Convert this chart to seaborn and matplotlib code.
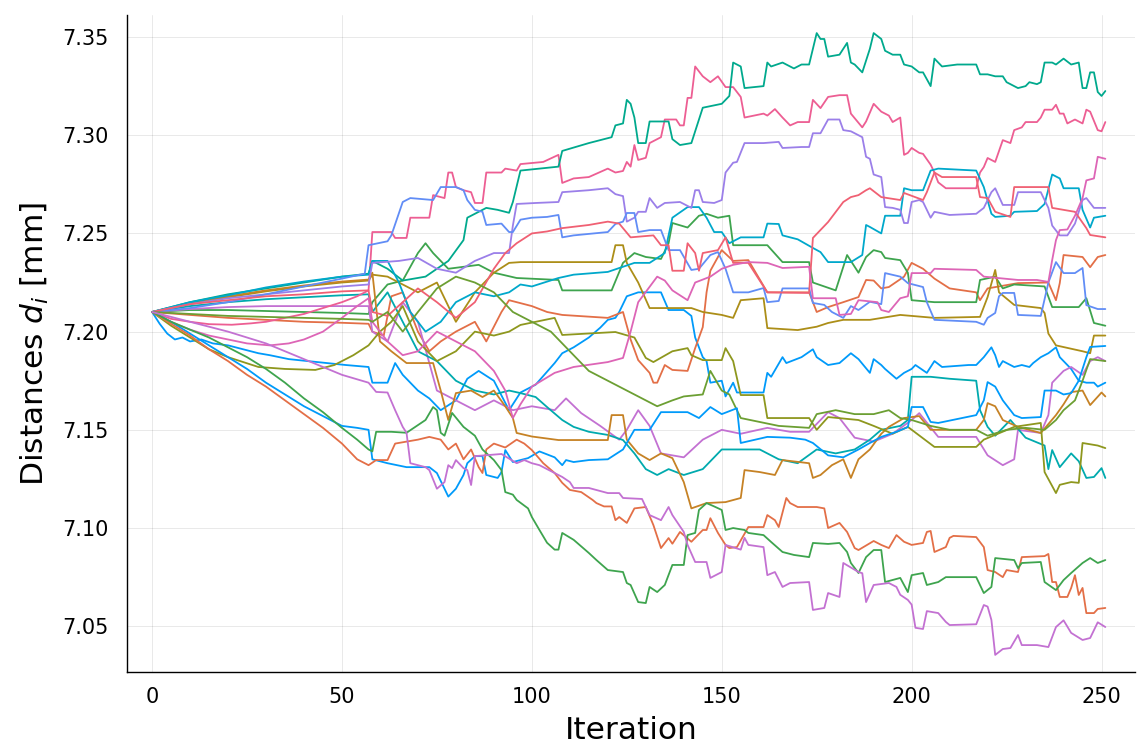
import matplotlib
matplotlib.use("Agg")
import matplotlib.pyplot as plt
import seaborn as sns
import pandas as pd

# Distance traces d_i over the optimisation iterations: (iteration, distance in mm)
d01 = [(0,7.21),(2,7.204),(4,7.199),(6,7.196),(8,7.197),(10,7.195),(13,7.196),(16,7.194),(20,7.193),(24,7.191),(28,7.189),(31,7.188),(36,7.186),(41,7.185),(46,7.184),(51,7.183),(57,7.182),(58,7.174),(62,7.174),(64,7.184),(66,7.178),(70,7.17),(73,7.166),(76,7.16),(80,7.165),(83,7.176),(86,7.18),(90,7.175),(94,7.16),(97,7.169),(101,7.173),(106,7.184),(108,7.189),(111,7.192),(115,7.197),(118,7.202),(120,7.206),(122,7.207),(123,7.21),(125,7.218),(128,7.22),(134,7.22),(136,7.211),(140,7.211),(142,7.208),(143,7.197),(145,7.187),(146,7.185),(147,7.174),(150,7.175),(151,7.167),(153,7.174),(154,7.169),(161,7.169),(162,7.179),(163,7.177),(166,7.187),(167,7.184),(171,7.187),(174,7.191),(175,7.187),(178,7.183),(181,7.184),(184,7.189),(186,7.186),(189,7.179),(190,7.186),(192,7.183),(193,7.181),(196,7.176),(198,7.179),(200,7.181),(201,7.183),(204,7.179),(206,7.185),(208,7.182),(215,7.183),(217,7.183),(219,7.187),(221,7.192),(222,7.188),(223,7.182),(224,7.185),(227,7.182),(229,7.183),(231,7.182),(232,7.184),(234,7.187),(236,7.189),(238,7.192),(239,7.187),(242,7.181),(244,7.175),(246,7.174),(248,7.174),(249,7.172),(251,7.174)]
d02 = [(0,7.21),(10,7.2085),(20,7.207),(30,7.206),(40,7.205),(50,7.2045),(57,7.204),(58,7.2),(61,7.198),(63,7.218),(66,7.22),(70,7.2),(73,7.19),(76,7.195),(80,7.2),(85,7.205),(88,7.195),(92,7.21),(94,7.216),(96,7.215),(100,7.213),(104,7.21),(108,7.2085),(120,7.207),(124,7.21),(126,7.196),(128,7.1855),(131,7.179),(132,7.174),(133,7.174),(135,7.183),(137,7.1805),(141,7.18),(143,7.1916),(145,7.2023),(146,7.22),(147,7.231),(150,7.2415),(153,7.236),(157,7.2364),(162,7.22),(173,7.22),(175,7.21),(178,7.2125),(182,7.215),(186,7.2176),(188,7.2263),(190,7.226),(192,7.222),(194,7.2227),(198,7.228),(200,7.235),(203,7.232),(206,7.227),(210,7.222),(217,7.22),(218,7.216),(220,7.222),(228,7.2247),(236,7.225),(238,7.216),(239,7.2247),(240,7.239),(245,7.238),(247,7.2328),(249,7.238),(251,7.239)]
d03 = [(0,7.21),(10,7.211),(20,7.211),(30,7.2105),(40,7.21),(50,7.2095),(57,7.209),(58,7.215),(62,7.224),(66,7.226),(70,7.24),(72,7.245),(74,7.24),(78,7.232),(82,7.233),(86,7.234),(90,7.23),(96,7.2273),(107,7.2263),(108,7.221),(121,7.221),(124,7.235),(127,7.24),(130,7.238),(134,7.237),(136,7.245),(137,7.2553),(141,7.253),(144,7.259),(146,7.26),(149,7.258),(152,7.259),(153,7.244),(162,7.244),(166,7.2354),(173,7.2354),(174,7.225),(180,7.221),(183,7.239),(186,7.23),(188,7.238),(190,7.2415),(192,7.2405),(193,7.2375),(197,7.2364),(199,7.23),(200,7.216),(206,7.215),(217,7.215),(218,7.2263),(222,7.228),(224,7.222),(227,7.224),(235,7.223),(237,7.2125),(244,7.2125),(246,7.217),(248,7.2044),(251,7.203)]
d04 = [(0,7.21),(10,7.2115),(20,7.2125),(30,7.213),(57,7.213),(58,7.2),(62,7.195),(66,7.215),(70,7.205),(75,7.17),(80,7.165),(85,7.16),(90,7.165),(95,7.16),(100,7.162),(106,7.16),(109,7.166),(113,7.1585),(118,7.152),(123,7.145),(125,7.15),(128,7.16),(131,7.152),(134,7.138),(140,7.136),(145,7.145),(150,7.15),(155,7.148),(162,7.151),(168,7.149),(173,7.149),(178,7.159),(181,7.156),(185,7.146),(190,7.144),(195,7.148),(200,7.155),(202,7.1585),(207,7.1464),(217,7.1464),(220,7.137),(224,7.132),(227,7.135),(228,7.15),(234,7.1484),(236,7.1575),(237,7.174),(240,7.18),(242,7.182),(245,7.178),(247,7.185),(249,7.187),(251,7.185)]
d05 = [(0,7.21),(10,7.214),(20,7.2175),(30,7.2205),(40,7.223),(50,7.225),(57,7.226),(58,7.229),(62,7.228),(65,7.225),(70,7.22),(75,7.225),(80,7.205),(85,7.22),(90,7.23),(94,7.235),(97,7.2354),(121,7.2354),(122,7.244),(124,7.244),(125,7.235),(128,7.225),(131,7.212),(142,7.212),(145,7.21),(150,7.2085),(153,7.207),(155,7.216),(161,7.217),(162,7.2018),(170,7.2008),(175,7.2025),(178,7.2044),(182,7.206),(189,7.206),(197,7.2085),(206,7.207),(218,7.2075),(220,7.2176),(222,7.2314),(223,7.22),(227,7.2136),(234,7.212),(235,7.2095),(236,7.199),(238,7.193),(245,7.19),(247,7.189),(248,7.198),(251,7.198)]
d06 = [(0,7.21),(10,7.213),(20,7.215),(30,7.2165),(40,7.2175),(50,7.2185),(57,7.219),(58,7.21),(62,7.22),(66,7.205),(70,7.19),(75,7.185),(80,7.175),(85,7.17),(90,7.168),(94,7.17),(97,7.1687),(101,7.1667),(104,7.1616),(108,7.155),(111,7.1515),(115,7.149),(120,7.1474),(124,7.1448),(127,7.138),(130,7.13),(133,7.127),(136,7.13),(140,7.127),(145,7.13),(150,7.14),(160,7.14),(165,7.135),(170,7.133),(175,7.14),(180,7.138),(185,7.14),(189,7.145),(192,7.15),(197,7.152),(199,7.155),(200,7.177),(205,7.177),(210,7.176),(217,7.175),(218,7.16),(220,7.1515),(222,7.147),(226,7.155),(230,7.146),(235,7.142),(236,7.13),(237,7.1397),(239,7.131),(242,7.138),(244,7.134),(246,7.1255),(248,7.126),(250,7.1305),(251,7.1255)]
d07 = [(0,7.21),(5,7.2065),(10,7.205),(15,7.2038),(21,7.2035),(26,7.2042),(30,7.205),(35,7.207),(40,7.209),(45,7.212),(50,7.215),(54,7.218),(57,7.221),(58,7.2507),(63,7.2507),(64,7.2477),(67,7.2477),(68,7.258),(73,7.258),(74,7.2695),(77,7.268),(78,7.281),(79,7.281),(80,7.2736),(82,7.272),(84,7.271),(85,7.2655),(87,7.2655),(88,7.281),(92,7.281),(93,7.283),(96,7.282),(97,7.2853),(103,7.2864),(107,7.29),(108,7.2757),(111,7.278),(115,7.2787),(120,7.283),(122,7.281),(124,7.2818),(125,7.2864),(126,7.284),(127,7.295),(128,7.2874),(130,7.2885),(131,7.296),(134,7.299),(135,7.308),(138,7.308),(139,7.305),(140,7.305),(141,7.319),(142,7.319),(143,7.335),(145,7.33),(147,7.327),(149,7.33),(151,7.3245),(153,7.3245),(155,7.3195),(156,7.309),(161,7.311),(162,7.31),(164,7.3133),(166,7.309),(168,7.305),(170,7.3067),(173,7.3067),(174,7.318),(176,7.3138),(178,7.3195),(181,7.3204),(183,7.3204),(184,7.311),(187,7.304),(188,7.307),(190,7.316),(192,7.312),(194,7.31),(195,7.3067),(197,7.309),(198,7.29),(199,7.291),(200,7.2935),(202,7.291),(203,7.2905),(205,7.285),(206,7.281),(207,7.276),(209,7.273),(217,7.273),(218,7.281),(219,7.2838),(220,7.2884),(222,7.2864),(224,7.2975),(226,7.296),(227,7.3026),(229,7.304),(230,7.3067),(233,7.3067),(234,7.309),(235,7.313),(237,7.313),(238,7.3155),(239,7.311),(240,7.311),(241,7.306),(243,7.308),(245,7.306),(246,7.313),(247,7.312),(249,7.3026),(250,7.302),(251,7.3067)]
d08 = [(0,7.21),(10,7.2145),(20,7.218),(30,7.221),(40,7.2235),(50,7.2255),(57,7.2265),(58,7.23),(60,7.195),(63,7.19),(67,7.184),(74,7.184),(76,7.17),(78,7.155),(80,7.1687),(84,7.17),(87,7.1667),(90,7.17),(93,7.162),(95,7.156),(96,7.1484),(100,7.1466),(107,7.1448),(120,7.1448),(121,7.1575),(124,7.1575),(125,7.145),(128,7.138),(131,7.1346),(134,7.138),(137,7.1356),(140,7.1234),(142,7.11),(146,7.1127),(151,7.1132),(155,7.1153),(156,7.1295),(160,7.1285),(164,7.127),(166,7.1346),(173,7.133),(174,7.1255),(176,7.127),(179,7.132),(182,7.135),(184,7.1255),(186,7.135),(189,7.14),(192,7.148),(194,7.1515),(198,7.156),(202,7.157),(205,7.15),(217,7.15),(219,7.155),(220,7.1636),(222,7.162),(224,7.155),(228,7.1515),(234,7.1484),(238,7.1575),(240,7.163),(242,7.1692),(245,7.17),(247,7.1626),(250,7.169),(251,7.167)]
d09 = [(0,7.21),(10,7.215),(20,7.219),(30,7.222),(40,7.225),(50,7.228),(57,7.2295),(58,7.236),(62,7.232),(66,7.226),(72,7.228),(78,7.236),(82,7.2466),(83,7.258),(88,7.263),(91,7.262),(94,7.2605),(95,7.266),(97,7.282),(107,7.284),(108,7.292),(115,7.296),(121,7.299),(122,7.305),(124,7.306),(125,7.318),(126,7.316),(127,7.309),(128,7.296),(130,7.296),(131,7.307),(136,7.307),(137,7.298),(139,7.295),(142,7.296),(143,7.302),(145,7.314),(150,7.316),(152,7.32),(153,7.337),(155,7.335),(156,7.324),(161,7.325),(162,7.337),(163,7.335),(166,7.337),(169,7.334),(171,7.336),(173,7.336),(174,7.344),(175,7.352),(176,7.349),(177,7.349),(178,7.34),(181,7.341),(183,7.347),(184,7.337),(185,7.336),(187,7.332),(189,7.344),(190,7.352),(192,7.349),(193,7.343),(195,7.341),(197,7.341),(198,7.336),(200,7.335),(202,7.332),(203,7.332),(205,7.325),(206,7.339),(208,7.335),(212,7.336),(217,7.336),(218,7.331),(220,7.331),(222,7.33),(224,7.33),(225,7.327),(228,7.324),(230,7.325),(231,7.327),(233,7.326),(234,7.327),(235,7.337),(237,7.337),(238,7.336),(240,7.339),(242,7.336),(244,7.337),(245,7.324),(246,7.324),(247,7.332),(248,7.332),(249,7.322),(250,7.32),(251,7.3225)]
d10 = [(0,7.21),(5,7.203),(10,7.197),(15,7.191),(20,7.187),(28,7.182),(35,7.181),(43,7.1805),(48,7.183),(53,7.188),(57,7.193),(60,7.2),(63,7.205),(66,7.213),(70,7.195),(75,7.185),(80,7.19),(85,7.2),(90,7.198),(94,7.2),(97,7.2034),(106,7.207),(108,7.1983),(122,7.1998),(127,7.197),(130,7.1866),(132,7.1845),(137,7.19),(141,7.1916),(142,7.188),(145,7.1855),(150,7.1855),(151,7.1916),(153,7.185),(155,7.1677),(161,7.1677),(162,7.156),(173,7.156),(175,7.15),(178,7.1565),(186,7.155),(190,7.152),(195,7.148),(199,7.1515),(206,7.1413),(217,7.1413),(219,7.145),(227,7.1515),(234,7.1535),(235,7.1285),(238,7.1178),(239,7.122),(242,7.1234),(244,7.123),(245,7.1433),(249,7.142),(251,7.1407)]
d11 = [(0,7.21),(10,7.215),(20,7.2185),(30,7.2225),(40,7.2255),(50,7.228),(57,7.229),(58,7.236),(62,7.236),(65,7.225),(68,7.21),(72,7.2),(76,7.205),(80,7.215),(85,7.22),(90,7.218),(94,7.22),(97,7.224),(100,7.223),(107,7.2273),(111,7.229),(120,7.2304),(127,7.235),(131,7.235),(135,7.24),(137,7.258),(141,7.2634),(144,7.2634),(146,7.258),(148,7.2507),(150,7.2507),(152,7.245),(155,7.248),(161,7.248),(162,7.255),(165,7.2548),(166,7.249),(170,7.247),(174,7.2426),(176,7.2405),(178,7.2354),(184,7.2354),(187,7.239),(188,7.2543),(189,7.2533),(192,7.25),(193,7.259),(197,7.259),(198,7.273),(200,7.272),(203,7.272),(205,7.282),(207,7.283),(217,7.282),(219,7.2736),(221,7.26),(222,7.2584),(226,7.259),(227,7.261),(233,7.2614),(235,7.265),(237,7.28),(239,7.278),(240,7.273),(244,7.273),(245,7.262),(247,7.253),(248,7.258),(251,7.259)]
d12 = [(0,7.21),(10,7.214),(20,7.217),(30,7.219),(40,7.221),(50,7.223),(57,7.224),(58,7.235),(65,7.236),(70,7.2375),(75,7.232),(80,7.23),(85,7.236),(90,7.24),(94,7.24),(95,7.254),(96,7.265),(101,7.2655),(107,7.266),(108,7.271),(115,7.272),(120,7.273),(122,7.27),(124,7.269),(125,7.256),(127,7.258),(128,7.261),(130,7.261),(131,7.268),(133,7.263),(135,7.2655),(139,7.266),(142,7.263),(143,7.272),(144,7.272),(145,7.266),(148,7.2655),(150,7.267),(151,7.281),(153,7.286),(154,7.2864),(156,7.296),(161,7.296),(165,7.2966),(166,7.2935),(171,7.294),(173,7.294),(174,7.301),(176,7.301),(178,7.308),(181,7.308),(182,7.3026),(184,7.302),(187,7.299),(188,7.289),(189,7.288),(190,7.28),(192,7.2787),(193,7.2634),(195,7.263),(197,7.262),(198,7.2553),(199,7.2553),(200,7.266),(202,7.267),(203,7.266),(205,7.258),(206,7.261),(210,7.2594),(217,7.26),(219,7.263),(221,7.271),(222,7.273),(224,7.2645),(227,7.2645),(228,7.271),(234,7.271),(236,7.263),(237,7.254),(239,7.249),(241,7.249),(243,7.255),(245,7.267),(246,7.268),(248,7.263),(251,7.263)]
d13 = [(0,7.21),(10,7.212),(20,7.215),(30,7.219),(40,7.223),(50,7.227),(56,7.2295),(57,7.244),(62,7.246),(63,7.249),(66,7.266),(68,7.268),(74,7.267),(76,7.2736),(80,7.2736),(82,7.272),(83,7.267),(85,7.262),(87,7.261),(88,7.2543),(92,7.255),(94,7.2507),(95,7.2507),(97,7.257),(100,7.258),(104,7.2584),(107,7.2594),(108,7.248),(111,7.249),(120,7.2507),(122,7.2548),(124,7.256),(125,7.2604),(127,7.2604),(128,7.2507),(131,7.2517),(134,7.2517),(136,7.2415),(139,7.2415),(142,7.2314),(144,7.232),(147,7.239),(149,7.2405),(151,7.232),(153,7.22),(157,7.22),(161,7.2222),(162,7.215),(165,7.2156),(166,7.222),(173,7.222),(174,7.2146),(177,7.2136),(179,7.21),(182,7.207),(184,7.213),(186,7.211),(189,7.2152),(192,7.214),(193,7.2298),(197,7.228),(199,7.2247),(203,7.2227),(204,7.215),(206,7.206),(217,7.205),(219,7.2035),(220,7.207),(222,7.2095),(223,7.218),(224,7.2197),(227,7.2197),(228,7.2085),(234,7.208),(236,7.225),(238,7.2354),(240,7.2298),(243,7.2298),(245,7.2324),(246,7.2135),(249,7.2115),(251,7.2115)]
d14 = [(0,7.21),(10,7.214),(20,7.216),(30,7.218),(40,7.219),(50,7.2205),(57,7.221),(58,7.21),(62,7.208),(66,7.215),(70,7.222),(75,7.215),(80,7.207),(85,7.215),(90,7.232),(93,7.24),(96,7.245),(100,7.25),(104,7.251),(108,7.2527),(115,7.2543),(120,7.256),(123,7.255),(126,7.248),(132,7.249),(134,7.244),(136,7.244),(137,7.231),(140,7.231),(141,7.245),(143,7.24),(144,7.231),(145,7.24),(149,7.2415),(151,7.248),(153,7.235),(157,7.235),(162,7.22),(173,7.2197),(174,7.2477),(178,7.2558),(182,7.266),(184,7.2685),(186,7.2695),(188,7.272),(189,7.273),(192,7.2685),(197,7.267),(198,7.2706),(203,7.267),(204,7.271),(206,7.281),(208,7.2787),(217,7.2787),(218,7.2685),(220,7.268),(222,7.261),(226,7.2584),(227,7.2736),(236,7.2736),(237,7.263),(243,7.261),(246,7.2527),(247,7.2492),(251,7.248)]
d15 = [(0,7.21),(5,7.205),(10,7.201),(15,7.198),(20,7.196),(25,7.194),(31,7.193),(36,7.194),(40,7.196),(45,7.2),(50,7.207),(54,7.213),(57,7.217),(58,7.205),(62,7.195),(66,7.188),(70,7.19),(75,7.2),(80,7.195),(85,7.19),(90,7.18),(93,7.17),(95,7.156),(97,7.163),(100,7.172),(106,7.179),(111,7.182),(120,7.1845),(124,7.1866),(126,7.2),(128,7.215),(133,7.228),(135,7.226),(137,7.221),(141,7.216),(143,7.225),(147,7.228),(150,7.232),(153,7.234),(157,7.2354),(162,7.235),(166,7.2324),(173,7.233),(174,7.217),(180,7.217),(181,7.2085),(184,7.209),(186,7.216),(191,7.215),(192,7.211),(194,7.21),(197,7.217),(199,7.218),(200,7.2298),(205,7.2298),(206,7.232),(217,7.2314),(219,7.228),(228,7.2263),(233,7.2263),(236,7.2253),(237,7.2364),(238,7.2466),(239,7.2517),(241,7.252),(243,7.259),(245,7.268),(246,7.277),(248,7.278),(249,7.289),(251,7.288)]
d16 = [(0,7.21),(10,7.209),(20,7.208),(30,7.2075),(40,7.207),(50,7.2065),(57,7.206),(58,7.205),(62,7.21),(66,7.2),(70,7.21),(75,7.222),(80,7.228),(85,7.225),(90,7.22),(95,7.21),(100,7.205),(105,7.2),(110,7.19),(115,7.18),(120,7.175),(125,7.17),(130,7.165),(133,7.162),(137,7.165),(140,7.167),(145,7.168),(147,7.18),(150,7.17),(152,7.168),(155,7.156),(160,7.154),(165,7.152),(173,7.151),(175,7.158),(180,7.16),(185,7.158),(190,7.158),(194,7.16),(197,7.156),(200,7.155),(205,7.152),(210,7.15),(217,7.15),(220,7.147),(225,7.15),(230,7.151),(235,7.15),(238,7.155),(240,7.16),(243,7.165),(245,7.175),(247,7.186),(251,7.185)]
d17 = [(0,7.21),(5,7.205),(10,7.199),(15,7.193),(20,7.187),(25,7.181),(30,7.174),(35,7.168),(40,7.162),(45,7.157),(50,7.152),(54,7.151),(57,7.15),(58,7.135),(62,7.133),(67,7.131),(73,7.131),(75,7.128),(78,7.116),(80,7.12),(82,7.127),(83,7.133),(85,7.1366),(87,7.1366),(88,7.127),(91,7.1255),(92,7.1285),(93,7.1397),(95,7.1336),(99,7.1356),(102,7.139),(106,7.136),(108,7.132),(109,7.1346),(111,7.1336),(115,7.1346),(120,7.135),(124,7.14),(127,7.15),(131,7.15),(134,7.159),(141,7.159),(144,7.156),(147,7.1616),(150,7.158),(154,7.161),(155,7.1433),(162,7.1464),(168,7.146),(172,7.145),(174,7.1433),(178,7.137),(182,7.136),(186,7.14),(189,7.1433),(192,7.1464),(196,7.149),(199,7.1514),(200,7.1616),(203,7.1616),(205,7.154),(207,7.1535),(217,7.1575),(219,7.165),(220,7.1743),(222,7.172),(224,7.165),(227,7.1575),(229,7.156),(234,7.1565),(235,7.17),(238,7.17),(240,7.168),(242,7.1687),(244,7.175),(246,7.187),(247,7.1922),(251,7.1927)]
d18 = [(0,7.21),(5,7.204),(10,7.198),(15,7.191),(20,7.185),(25,7.178),(30,7.172),(35,7.165),(40,7.158),(45,7.151),(50,7.143),(54,7.135),(57,7.132),(59,7.1346),(62,7.1346),(64,7.143),(70,7.145),(73,7.1464),(76,7.145),(78,7.14),(80,7.143),(82,7.135),(84,7.14),(86,7.131),(87,7.128),(88,7.14),(90,7.143),(93,7.141),(96,7.145),(98,7.143),(100,7.1397),(103,7.133),(106,7.128),(108,7.123),(110,7.1194),(113,7.1183),(116,7.1143),(117,7.1127),(119,7.111),(121,7.111),(122,7.104),(123,7.1056),(125,7.1026),(127,7.11),(130,7.1107),(132,7.1015),(134,7.0898),(136,7.0949),(137,7.092),(139,7.098),(142,7.093),(145,7.099),(146,7.099),(147,7.105),(149,7.0975),(151,7.0914),(152,7.0898),(154,7.0903),(157,7.1005),(161,7.1005),(162,7.1066),(164,7.104),(165,7.1005),(167,7.1153),(168,7.1127),(170,7.1107),(175,7.1107),(177,7.11),(178,7.1),(181,7.1026),(183,7.098),(185,7.0898),(186,7.0888),(190,7.0934),(192,7.0914),(194,7.0898),(196,7.0964),(198,7.093),(200,7.0914),(203,7.0924),(204,7.098),(205,7.0985),(206,7.0878),(209,7.0903),(210,7.095),(211,7.096),(217,7.0954),(219,7.0903),(220,7.0786),(222,7.0776),(224,7.075),(225,7.0786),(228,7.0776),(229,7.0852),(235,7.0857),(236,7.0868),(237,7.0725),(238,7.0725),(239,7.0649),(241,7.0649),(242,7.0695),(243,7.076),(244,7.0659),(245,7.0695),(246,7.0567),(248,7.0567),(249,7.0588),(251,7.0593)]
d19 = [(0,7.21),(5,7.205),(10,7.201),(15,7.197),(20,7.192),(25,7.187),(30,7.181),(35,7.174),(40,7.166),(45,7.159),(50,7.151),(54,7.145),(57,7.14),(58,7.139),(59,7.149),(63,7.149),(67,7.1485),(72,7.155),(74,7.1616),(75,7.16),(76,7.1485),(77,7.147),(79,7.1586),(82,7.1515),(85,7.147),(87,7.14),(90,7.1346),(92,7.1295),(93,7.1183),(95,7.117),(96,7.1143),(99,7.11),(100,7.1056),(102,7.099),(104,7.0925),(106,7.089),(107,7.089),(108,7.0975),(111,7.094),(115,7.0873),(117,7.0837),(120,7.0786),(124,7.0776),(125,7.072),(126,7.071),(128,7.0623),(130,7.0618),(131,7.07),(133,7.0674),(135,7.071),(137,7.0812),(140,7.0812),(141,7.0964),(143,7.0975),(144,7.1092),(146,7.1127),(148,7.111),(150,7.1092),(151,7.099),(153,7.1),(156,7.099),(157,7.0975),(161,7.0964),(163,7.0929),(166,7.0878),(169,7.0863),(173,7.0852),(174,7.0924),(178,7.0919),(181,7.0924),(183,7.0878),(184,7.0822),(186,7.0771),(188,7.0852),(190,7.0888),(192,7.0888),(193,7.0725),(197,7.0746),(199,7.0674),(200,7.076),(203,7.0771),(204,7.071),(207,7.0725),(209,7.075),(217,7.075),(219,7.0669),(221,7.07),(222,7.0847),(227,7.0837),(228,7.0796),(229,7.0822),(234,7.0827),(235,7.0725),(238,7.0684),(240,7.0735),(242,7.0771),(245,7.0822),(247,7.0847),(249,7.0822),(251,7.0837)]
d20 = [(0,7.21),(10,7.205),(20,7.2),(30,7.194),(40,7.186),(50,7.178),(57,7.174),(59,7.1693),(62,7.169),(64,7.16),(66,7.1515),(67,7.1485),(68,7.133),(72,7.131),(73,7.1295),(75,7.12),(77,7.1234),(78,7.132),(79,7.1305),(80,7.1346),(82,7.1305),(83,7.1295),(84,7.1219),(85,7.1366),(92,7.1377),(96,7.133),(98,7.1346),(100,7.133),(102,7.132),(103,7.131),(106,7.128),(108,7.126),(110,7.1234),(111,7.1204),(115,7.1204),(120,7.1178),(123,7.1178),(124,7.1153),(129,7.1148),(131,7.1066),(134,7.104),(136,7.1107),(137,7.1066),(140,7.098),(141,7.0914),(143,7.0827),(146,7.0827),(147,7.0746),(150,7.0776),(151,7.0914),(155,7.089),(156,7.095),(157,7.0914),(161,7.0903),(162,7.076),(164,7.0776),(166,7.07),(168,7.072),(173,7.0725),(174,7.0583),(177,7.0593),(178,7.0669),(181,7.0649),(182,7.0822),(186,7.0776),(187,7.077),(188,7.0623),(190,7.071),(194,7.072),(196,7.07),(197,7.066),(199,7.0634),(200,7.061),(201,7.0492),(203,7.0486),(204,7.0577),(207,7.0567),(209,7.0522),(210,7.0506),(217,7.051),(219,7.0608),(220,7.06),(221,7.0532),(222,7.0354),(224,7.0384),(226,7.0389),(228,7.0455),(229,7.0404),(233,7.0404),(236,7.0394),(238,7.0496),(240,7.053),(242,7.0466),(245,7.043),(247,7.044),(249,7.052),(251,7.0496)]

series = [d01, d02, d03, d04, d05, d06, d07, d08, d09, d10,
          d11, d12, d13, d14, d15, d16, d17, d18, d19, d20]

# Default 16-colour cycle, reused for the last four traces
cycle = ["#009AFA", "#E36F47", "#3EA44E", "#C371D2", "#AC8E18", "#00AAAE",
         "#ED5E93", "#C68225", "#00A98D", "#8E971E", "#00A8CB", "#9B7FE9",
         "#618DF6", "#F06073", "#DD65B6", "#6C9F33"]

x_ticks = [0, 50, 100, 150, 200, 250]
y_ticks = [7.05, 7.10, 7.15, 7.20, 7.25, 7.30, 7.35]

rows = []
for k, s in enumerate(series):
    for order, (it, val) in enumerate(s):
        rows.append({"trace": f"d{k + 1}", "order": order,
                     "Iteration": it, "distance": val})
df = pd.DataFrame(rows)

palette = {f"d{k + 1}": cycle[k % len(cycle)] for k in range(len(series))}

sns.set_style("white")
plt.rcParams["font.family"] = ["DejaVu Sans"]

fig = plt.figure(figsize=(11.38, 7.51), dpi=100)
ax = fig.add_axes([0.1116, 0.1052, 0.8854, 0.8748])

sns.lineplot(data=df, x="Iteration", y="distance", hue="trace",
             palette=palette, estimator=None, sort=False, legend=False,
             linewidth=1.3, ax=ax)

ax.set_xlim(-6.6, 258.7)
ax.set_ylim(7.0267, 7.3612)
ax.set_xticks(x_ticks)
ax.set_yticks(y_ticks)
ax.set_yticklabels([f"{v:.2f}" for v in y_ticks])
ax.grid(True, color="black", alpha=0.1, linewidth=0.6)
ax.set_axisbelow(True)

for side in ["top", "right"]:
    ax.spines[side].set_visible(False)
for side in ["left", "bottom"]:
    ax.spines[side].set_color("black")
    ax.spines[side].set_linewidth(1.0)

ax.tick_params(direction="in", length=6, width=1.0, labelsize=15,
               colors="black", labelcolor="black")
ax.tick_params(axis="y", pad=13)
ax.tick_params(axis="x", pad=11)
ax.set_xlabel("Iteration", fontsize=22.5, labelpad=6, color="black")
ax.set_ylabel("Distances $d_i$ [mm]", fontsize=22.5, labelpad=8, color="black")

fig.savefig("out.png", dpi=100)
